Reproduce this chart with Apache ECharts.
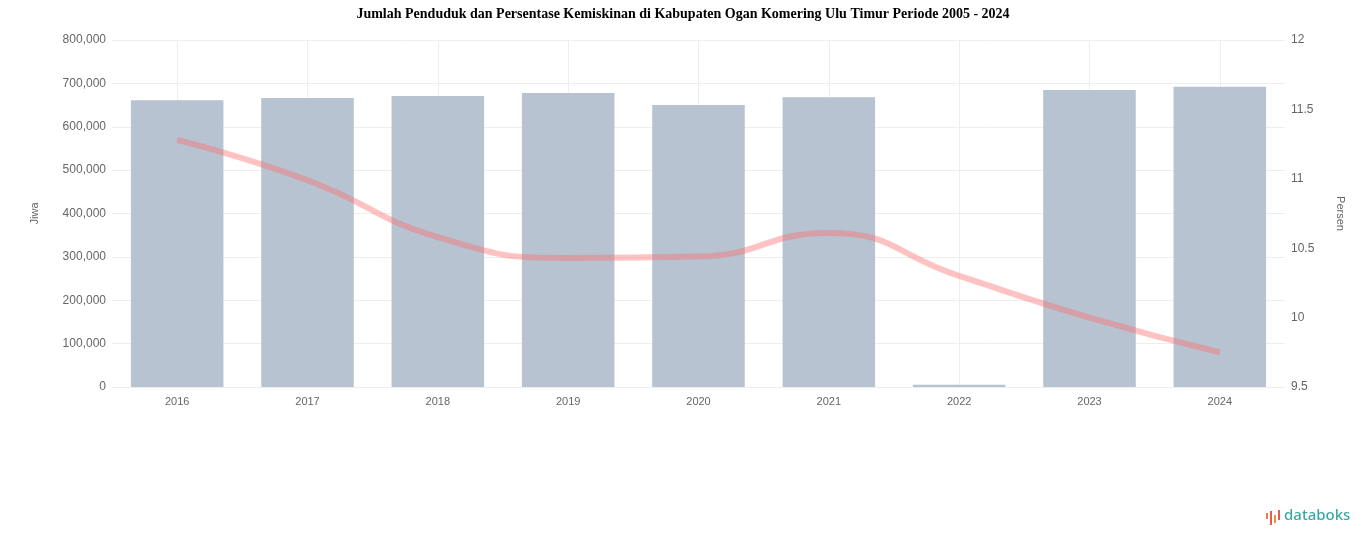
<!DOCTYPE html>
<html>
<head>
<meta charset="utf-8">
<script src="https://cdn.jsdelivr.net/npm/echarts@6/dist/echarts.min.js"></script>
<style>
html,body{margin:0;padding:0;background:#fff;}
#chart{width:1366px;height:547px;}
</style>
</head>
<body>
<div id="chart"></div>
<script>
const titleText = 'Jumlah Penduduk dan Persentase Kemiskinan di Kabupaten Ogan Komering Ulu Timur Periode 2005 - 2024';
const years = ['2016','2017','2018','2019','2020','2021','2022','2023','2024'];
const penduduk = [661000, 666000, 671000, 678000, 650000, 668000, 5000, 685000, 692000];
const persenMiskin = [11.28, 10.99, 10.58, 10.43, 10.44, 10.61, 10.30, 10.00, 9.75];
const leftTicks = {min: 0, max: 800000, interval: 100000};
const rightTicks = {min: 9.5, max: 12, interval: 0.5};

const chart = echarts.init(document.getElementById('chart'), null, {renderer: 'canvas'});
const labelStyle = {color: '#666', fontSize: 11, fontFamily: 'Liberation Sans, Arial, sans-serif'};
const yLabelStyle = {color: '#666', fontSize: 12, fontFamily: 'Liberation Sans, Arial, sans-serif'};
chart.setOption({
  animation: false,
  backgroundColor: '#fff',
  title: {
    text: titleText, left: 'center', top: 2,
    textStyle: {fontFamily: 'Liberation Serif, Times New Roman, serif', fontWeight: 'bold', fontSize: 14, color: '#000'}
  },
  grid: {left: 112, right: 81, top: 40, bottom: 160, containLabel: false},
  xAxis: {
    type: 'category', data: years, boundaryGap: true,
    axisLine: {show: false}, axisTick: {show: false},
    axisLabel: Object.assign({margin: 9}, labelStyle),
    splitLine: {show: true, alignWithLabel: true, lineStyle: {color: '#eeeeee', width: 1}}
  },
  yAxis: [{
    type: 'value', min: leftTicks.min, max: leftTicks.max, interval: leftTicks.interval,
    name: 'Jiwa', nameLocation: 'middle', nameGap: 72, nameRotate: 90,
    nameTextStyle: labelStyle,
    axisLine: {show: false}, axisTick: {show: false},
    axisLabel: Object.assign({margin: 6, formatter: v => v.toLocaleString('en-US')}, yLabelStyle),
    splitLine: {show: true, lineStyle: {color: '#eeeeee'}}
  }, {
    type: 'value', min: rightTicks.min, max: rightTicks.max, interval: rightTicks.interval,
    name: 'Persen', nameLocation: 'middle', nameGap: 50, nameRotate: -90,
    nameTextStyle: labelStyle,
    axisLine: {show: false}, axisTick: {show: false},
    axisLabel: Object.assign({margin: 6}, yLabelStyle),
    splitLine: {show: false}
  }],
  series: [{
    type: 'bar', data: penduduk, yAxisIndex: 0,
    barCategoryGap: '29%',
    itemStyle: {color: '#b7c3d1'}
  }, {
    type: 'line', data: persenMiskin, yAxisIndex: 1, smooth: true,
    symbol: 'none', z: 5,
    lineStyle: {color: 'rgba(255,110,110,0.42)', width: 6}
  }],
  graphic: [
    {type: 'rect', left: 1266, top: 513, shape: {width: 2, height: 6}, style: {fill: '#f07a4a'}},
    {type: 'rect', left: 1270, top: 511, shape: {width: 2, height: 14}, style: {fill: '#e85a4f'}},
    {type: 'rect', left: 1274, top: 515, shape: {width: 2, height: 8}, style: {fill: '#f08c3a'}},
    {type: 'rect', left: 1278, top: 510, shape: {width: 2, height: 10}, style: {fill: '#e85a4f'}},
    {type: 'text', left: 1284, top: 508, style: {text: 'databoks', fill: '#3aa9a4', font: '500 15px "Noto Sans", sans-serif'}}
  ]
});
</script>
</body>
</html>
